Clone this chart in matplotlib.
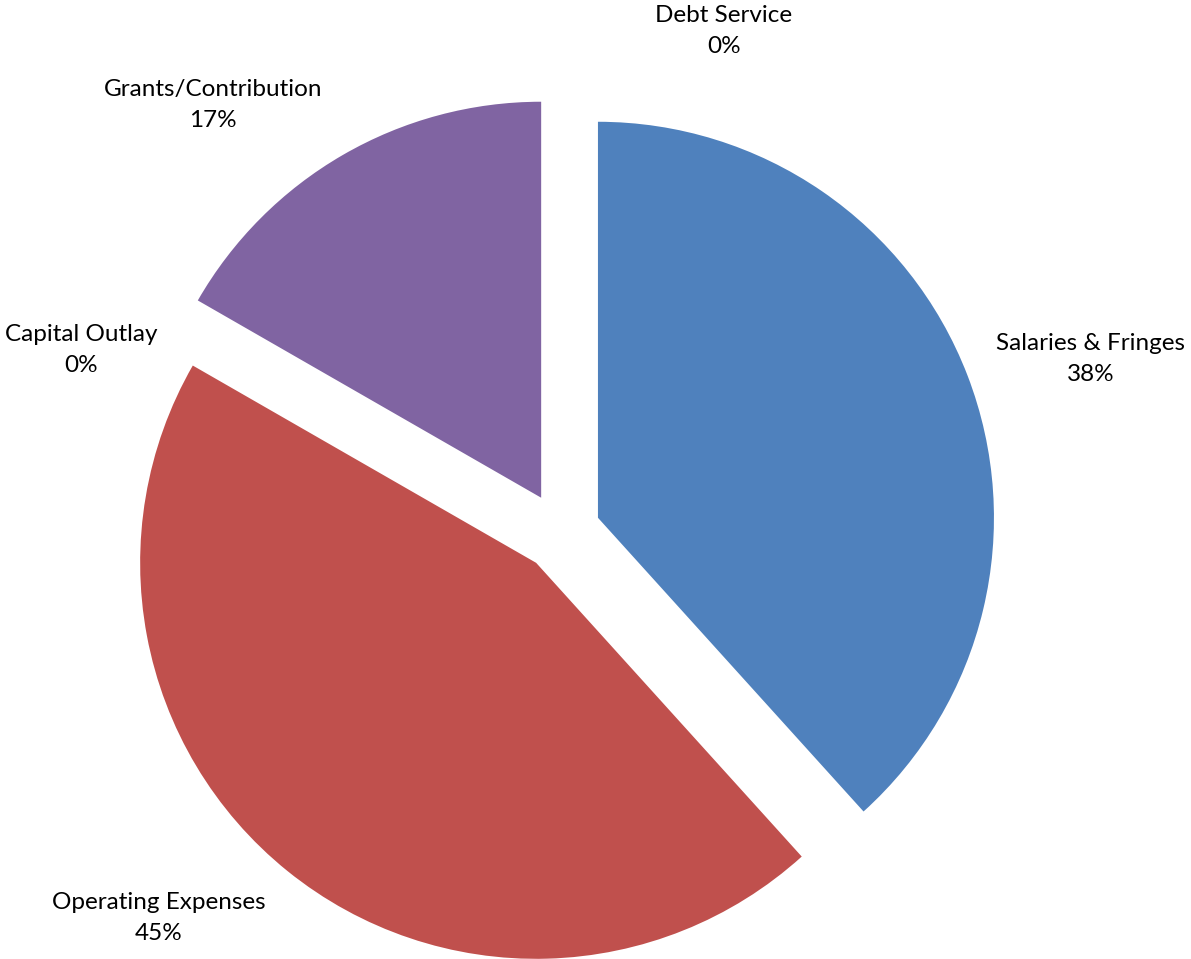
import matplotlib
matplotlib.use("Agg")
import matplotlib.pyplot as plt

# Expenditure shares by category (percent)
categories = ["Salaries & Fringes", "Operating Expenses", "Capital Outlay",
              "Grants/Contribution", "Debt Service"]
shares = [38.3, 45.0, 0.0, 16.7, 0.0]
colors = ["#4F81BD", "#C0504D", "#9BBB59", "#8064A2", "#4BACC6"]

# label anchor points (pixel-space axes), one per category
label_xy = [(1091, 600), (159, 41), (81, 609), (213, 854), (724, 928)]

W, H = 1191, 959
fig = plt.figure(figsize=(W / 100, H / 100), dpi=100)
ax = fig.add_axes([0, 0, 1, 1])

cx, cy, r = 561, H - 532, 396
# explode is in data units, so push every slice out by 10% of the radius
ax.pie(shares, colors=colors, startangle=90, counterclock=False,
       explode=[0.1 * r] * len(shares), center=(cx, cy), radius=r,
       wedgeprops=dict(linewidth=0))

total = sum(shares)
for name, val, (x, y) in zip(categories, shares, label_xy):
    ax.text(x, y, f"{name}\n{val / total * 100:.0f}%", ha="center", va="center",
            fontsize=17.5, family="Lato", linespacing=1.62, color="#000000")

ax.set_xlim(0, W)
ax.set_ylim(0, H)
ax.set_aspect("auto")
ax.axis("off")

fig.savefig("out.png", dpi=100, facecolor="white")
